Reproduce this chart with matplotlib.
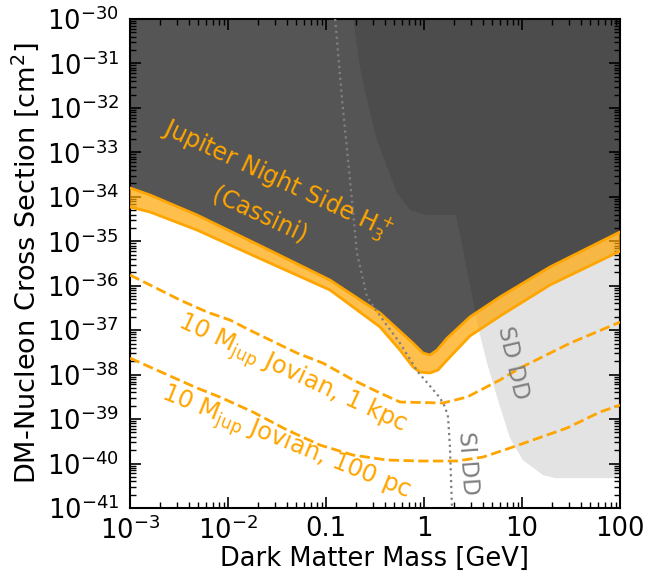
import numpy as np
import matplotlib
matplotlib.use("Agg")
import matplotlib.pyplot as plt
from matplotlib.ticker import LogLocator, NullFormatter

# Jupiter night side H3+ (Cassini) band: upper and lower edges
band_hi_m = [1e-3, 1.6e-3, 4.83e-3, 2.28e-2, 0.110, 0.356, 0.773, 0.977, 1.15, 1.36, 1.72, 2.94, 5.97, 19.3, 100]
band_hi_sigma = [1.58e-34, 1.10e-34, 3.9e-35, 7.4e-36, 1.34e-36, 2.43e-37, 5.1e-38, 3.06e-38, 2.76e-38,
                 3.57e-38, 6.6e-38, 1.98e-37, 5.6e-37, 2.64e-36, 1.62e-35]
band_lo_m = [1e-3, 1.6e-3, 4.83e-3, 2.28e-2, 0.110, 0.356, 0.569, 0.773, 0.91, 1.15, 1.39, 1.72, 2.94, 5.97, 19.3, 100]
band_lo_sigma = [5.9e-35, 4.55e-35, 1.79e-35, 3.79e-36, 8.0e-37, 1.18e-37, 3.57e-38, 1.48e-38, 1.14e-38,
                 1.09e-38, 1.27e-38, 2.13e-38, 7.4e-38, 2.08e-37, 1.04e-36, 6.0e-36]

# 10 M_jup Jovian projections
m_1kpc = [1e-3, 1.6e-3, 3.24e-3, 6.11e-3, 1.05e-2, 1.67e-2, 2.69e-2, 5.06e-2, 9.3e-2, 0.189, 0.356, 0.569,
          1.56, 2.75, 5.97, 9.55, 30.9, 100]
sigma_1kpc = [1.74e-36, 1.04e-36, 4.77e-37, 2.56e-37, 1.69e-37, 1.0e-37, 6.0e-38, 3.06e-38, 1.82e-38, 7.6e-39,
              3.86e-39, 2.42e-39, 2.3e-39, 3.13e-39, 7.6e-39, 1.41e-38, 5.1e-38, 1.52e-37]
m_100pc = [1e-3, 1.6e-3, 4.83e-3, 8.28e-3, 1.8e-2, 4.0e-2, 8.7e-2, 0.189, 0.419, 0.91, 2.17, 4.0, 7.55, 12.9,
           28.8, 62.5, 100]
sigma_100pc = [2.36e-38, 1.48e-38, 5.0e-39, 3.13e-39, 1.44e-39, 5.7e-40, 2.6e-40, 1.55e-40, 1.2e-40, 1.14e-40,
               1.14e-40, 1.4e-40, 2.23e-40, 3.38e-40, 6.3e-40, 1.44e-39, 2.07e-39]

# SI direct detection limit
m_si = [0.124, 0.132, 0.146, 0.164, 0.184, 0.207, 0.262, 0.382, 0.569, 0.869, 1.02, 1.46, 1.64, 1.76, 1.84, 1.93]
sigma_si = [1e-30, 2.0e-31, 1.51e-32, 1.13e-33, 8.5e-35, 5.4e-36, 5.6e-37, 1.69e-37, 5.1e-38, 1.14e-38, 7.6e-39,
            2.98e-39, 1.87e-39, 1.11e-39, 2.35e-40, 1e-41]

# SD direct detection excluded region (outline)
m_sd = [0.189, 0.222, 0.262, 0.331, 0.419, 0.53, 0.72, 1.07, 2.12, 2.39, 3.16, 3.56, 4.4, 5.56, 7.55, 10.2,
        16.4, 21.7, 85, 100, 100]
sigma_sd = [1e-30, 8.3e-32, 1.51e-32, 1.9e-33, 4.7e-34, 1.23e-34, 5.0e-35, 3.9e-35, 3.9e-35, 1.07e-35, 4.77e-37,
            1.17e-37, 1.82e-38, 3.16e-39, 3.7e-40, 1.2e-40, 5.5e-41, 4.7e-41, 4.7e-41, 6e-41, 1e-30]

xticks = [1e-3, 1e-2, 0.1, 1, 10, 100]
xticklabels = [r"$10^{-3}$", r"$10^{-2}$", "0.1", "1", "10", "100"]
yticks = [10.0 ** e for e in range(-41, -29)]

fig = plt.figure(figsize=(6.59, 5.74), dpi=100)
ax = fig.add_axes([130 / 659, 1 - 508 / 574, 490 / 659, 489 / 574])
ax.set_xscale("log")
ax.set_yscale("log")

ax.fill(m_sd, sigma_sd, color="#e3e3e3", lw=0, zorder=1)
ax.fill_between(band_hi_m, band_hi_sigma, 1e-29, color="k", alpha=0.667, lw=0, zorder=2)
ax.fill(band_hi_m + band_lo_m[::-1], band_hi_sigma + band_lo_sigma[::-1],
        color="orange", alpha=0.7, lw=0, zorder=3)
ax.plot(band_hi_m, band_hi_sigma, color="orange", lw=2, zorder=3)
ax.plot(band_lo_m, band_lo_sigma, color="orange", lw=2, zorder=3)
ax.plot(m_1kpc, sigma_1kpc, color="orange", lw=2, ls="--", zorder=4)
ax.plot(m_100pc, sigma_100pc, color="orange", lw=2, ls="--", zorder=4)
ax.plot(m_si, sigma_si, color="gray", lw=1.6, ls=":", zorder=5)

ax.text(0.0316, 2.4e-34, r"Jupiter Night Side H$_3^+$", color="orange", fontsize=17,
        rotation=-25, rotation_mode="anchor", ha="center", va="center", zorder=6)
ax.text(0.0212, 3.9e-35, "(Cassini)", color="orange", fontsize=17,
        rotation=-25, rotation_mode="anchor", ha="center", va="center", zorder=6)
ax.text(0.045, 1.0e-38, r"10 M$_{\rm jup}$ Jovian, 1 kpc", color="orange", fontsize=17.5,
        rotation=-25, rotation_mode="anchor", ha="center", va="center", zorder=6)
ax.text(0.0382, 2.9e-40, r"10 M$_{\rm jup}$ Jovian, 100 pc", color="orange", fontsize=17.5,
        rotation=-22, rotation_mode="anchor", ha="center", va="center", zorder=6)
ax.text(8.1, 1.82e-38, "SD DD", color="gray", fontsize=16.5,
        rotation=-77, rotation_mode="anchor", ha="center", va="center", zorder=6)
ax.text(2.81, 1.03e-40, "SI DD", color="gray", fontsize=16.5,
        rotation=-86, rotation_mode="anchor", ha="center", va="center", zorder=6)

ax.set_xlim(1e-3, 100)
ax.set_ylim(1e-41, 1e-30)
ax.set_xticks(xticks, xticklabels)
ax.set_yticks(yticks)
ax.xaxis.set_minor_locator(LogLocator(base=10, subs=np.arange(2, 10), numticks=100))
ax.yaxis.set_minor_locator(LogLocator(base=10, subs=np.arange(2, 10), numticks=100))
ax.xaxis.set_minor_formatter(NullFormatter())
ax.yaxis.set_minor_formatter(NullFormatter())
ax.tick_params(which="both", direction="in", top=True, right=True, labelsize=18.5)
ax.tick_params(axis="x", which="major", pad=6)
ax.tick_params(axis="y", which="major", pad=8)
ax.tick_params(which="major", length=8, width=1.2)
ax.tick_params(which="minor", length=4, width=1)
for s in ax.spines.values():
    s.set_linewidth(1.5)

ax.set_xlabel("Dark Matter Mass [GeV]", fontsize=18.5, labelpad=1)
ax.set_ylabel(r"DM-Nucleon Cross Section [cm$^2$]", fontsize=19.5, labelpad=4)

fig.savefig("out.png", dpi=100)
